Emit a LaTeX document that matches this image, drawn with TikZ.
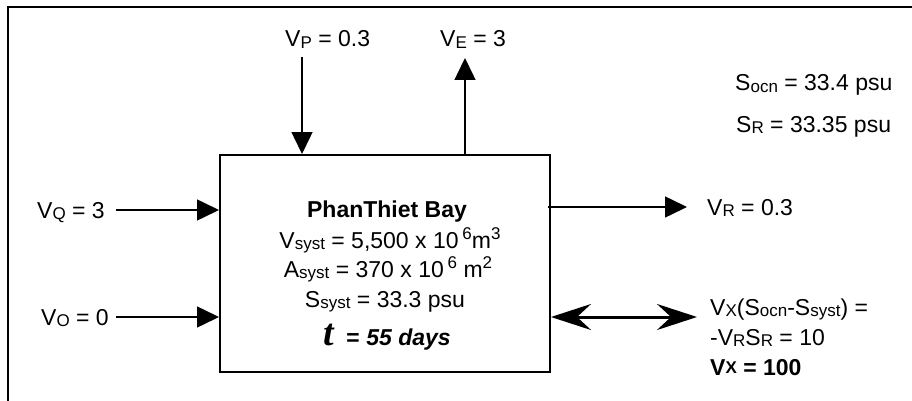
\documentclass[tikz,border=0pt]{standalone}
\usepackage{fontspec}
\setmainfont{Liberation Sans}
\newfontfamily\tfont{Liberation Serif}
\usetikzlibrary{arrows.meta}
\newcommand{\mysub}[1]{\raisebox{-1.5pt}{\fontsize{17}{17}\selectfont #1}}
\newcommand{\mysup}[1]{\raisebox{9pt}{\fontsize{17}{17}\selectfont #1}}
\begin{document}
\begin{tikzpicture}[x=1pt,y=-1pt,
  lbl/.style={inner sep=0pt,anchor=base west,font=\fontsize{23}{27}\selectfont},
  ctr/.style={inner sep=0pt,anchor=base,font=\fontsize{23}{27}\selectfont},
  flow/.style={line width=1.5pt,-{Triangle[length=22pt,width=21pt]}},
  mix/.style={line width=3pt,{Stealth[length=40pt,width=26pt,inset=14pt]}-{Stealth[length=40pt,width=26pt,inset=14pt]}},
  bayboxstyle/.style={draw,line width=2pt,minimum width=330pt,minimum height=217pt,inner sep=0pt}]
\useasboundingbox (0,0) rectangle (912,401);
\draw[line width=2.5pt] (8,402) -- (8,7) -- (913,7);
% main box
\node[bayboxstyle] (bay) at (385,263.5) {};
\node[ctr,font=\fontsize{23}{27}\selectfont\bfseries] (t1) at (387,217) {PhanThiet Bay};
\node[ctr] (t2) at (390,248) {V\mysub{syst} = 5,500 x 10\,\mysup{6}m\mysup{3}};
\node[ctr] (t3) at (388,277) {A\mysub{syst} = 370 x 10\,\mysup{6} m\mysup{2}};
\node[ctr] (t4) at (385,307) {S\mysub{syst} = 33.3 psu};
\node[ctr] (t5) at (387,345) {{\tfont\fontsize{38}{38}\selectfont\bfseries\itshape t}\hspace{12pt}{\bfseries\itshape =\hspace{7pt}55 days}};
% labels
\node[lbl] (vp) at (285,47) {V\mysub{P} = 0.3};
\node[lbl] (ve) at (440,47) {V\mysub{E} = 3};
\node[lbl] (socn) at (735,91) {S\mysub{ocn} = 33.4 psu};
\node[lbl] (sr) at (736,132) {S\mysub{R} = 33.35 psu};
\node[lbl] (vq) at (37,218) {V\mysub{Q} = 3};
\node[lbl] (vo) at (41,325) {V\mysub{O} = 0};
\node[lbl] (vr) at (707,215) {V\mysub{R} = 0.3};
\node[lbl] (vx1) at (710,315) {V\mysub{X}(S\mysub{ocn}-S\mysub{syst}) =};
\node[lbl] (vx2) at (710,345) {-V\mysub{R}S\mysub{R} = 10};
\node[lbl,font=\fontsize{23}{27}\selectfont\bfseries] (vx3) at (710,375) {V\raisebox{2pt}{\fontsize{17}{17}\selectfont X} = 100};
% connectors
\coordinate (pTail) at (302,57);
\coordinate (eTip) at (465,58);
\coordinate (qTail) at (116,210);
\coordinate (oTail) at (116,317);
\coordinate (rStart) at (548,207);
\coordinate (rTip) at (687,207);
\coordinate (xTip) at (697,317);
\draw[flow] (pTail) -- (pTail |- bay.north);
\draw[flow] (eTip |- bay.north) -- (eTip);
\draw[flow] (qTail) -- (qTail -| bay.west);
\draw[flow] (oTail) -- (oTail -| bay.west);
\draw[flow] (rStart) -- (rTip);
\draw[mix] (xTip -| bay.east) -- (xTip);
\end{tikzpicture}
\end{document}
